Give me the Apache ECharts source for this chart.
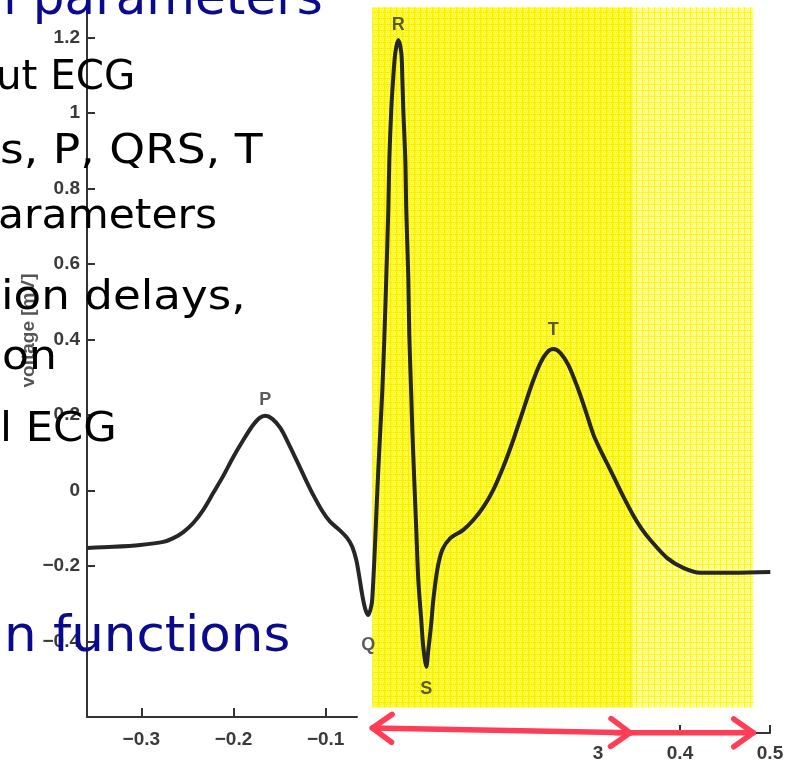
<!DOCTYPE html>
<html>
<head>
<meta charset="utf-8">
<script src="https://cdn.jsdelivr.net/npm/echarts@6/dist/echarts.min.js"></script>
<style>
  html, body { margin: 0; padding: 0; background: #ffffff; }
  #chart { width: 789px; height: 763px; }
</style>
</head>
<body>
<div id="chart"></div>
<script>
// One ECG beat: time [s] and voltage [mV]
const ecgTime = [
  -0.3587, -0.3304, -0.3011, -0.2761, -0.2652, -0.2543, -0.2435, -0.2326, -0.2217, -0.2109,
  -0.2000, -0.1891, -0.1793, -0.1717, -0.1652, -0.1576, -0.1489, -0.1402, -0.1304, -0.1217,
  -0.1130, -0.1033, -0.0946, -0.0848, -0.0761, -0.0707, -0.0663, -0.0630, -0.0598, -0.0565,
  -0.0533, -0.0500, -0.0489, -0.0467, -0.0446, -0.0424, -0.0402, -0.0380, -0.0359, -0.0337,
  -0.0315, -0.0304, -0.0283, -0.0261, -0.0239, -0.0207, -0.0174, -0.0163, -0.0152, -0.0130,
  -0.0120, -0.0098, -0.0087, -0.0065, -0.0054, -0.0033, -0.0011, 0.0011, 0.0043, 0.0065,
  0.0098, 0.0120, 0.0152, 0.0174, 0.0217, 0.0272, 0.0359, 0.0500, 0.0609, 0.0717,
  0.0826, 0.0935, 0.1043, 0.1152, 0.1250, 0.1337, 0.1413, 0.1478, 0.1554, 0.1641,
  0.1739, 0.1826, 0.1913, 0.1989, 0.2098, 0.2207, 0.2348, 0.2435, 0.2533, 0.2717,
  0.2891, 0.3076, 0.3435, 0.3837
];
const ecgVoltage = [
  -0.152, -0.149, -0.144, -0.136, -0.126, -0.110, -0.086, -0.051, -0.006, 0.039,
  0.089, 0.134, 0.171, 0.192, 0.198, 0.190, 0.166, 0.126, 0.076, 0.031,
  -0.012, -0.054, -0.083, -0.104, -0.126, -0.149, -0.184, -0.229, -0.277, -0.314,
  -0.330, -0.306, -0.285, -0.184, -0.065, 0.055, 0.161, 0.267, 0.399, 0.566,
  0.744, 0.876, 1.009, 1.096, 1.160, 1.194, 1.160, 1.096, 1.009, 0.876,
  0.744, 0.566, 0.412, 0.248, 0.161, 0.028, -0.104, -0.237, -0.343, -0.414,
  -0.467, -0.422, -0.351, -0.290, -0.210, -0.157, -0.126, -0.104, -0.078, -0.044,
  0.002, 0.063, 0.134, 0.214, 0.285, 0.338, 0.367, 0.375, 0.365, 0.333,
  0.275, 0.214, 0.149, 0.108, 0.055, 0.000, -0.066, -0.100, -0.131, -0.179,
  -0.205, -0.218, -0.218, -0.216
];

// Wave names and the sample times they mark
const waveNames = ['P', 'Q', 'R', 'S', 'T'];
const waveTimes = [-0.1652, -0.0533, -0.0207, 0.0098, 0.1478];

// Axis ticks
const voltageTicks = [-0.4, -0.2, 0, 0.2, 0.4, 0.6, 0.8, 1, 1.2];
const timeTicksLeft = [-0.3, -0.2, -0.1];
const timeTicksRight = [0.3, 0.4, 0.5];

// Highlighted time intervals [start, end] and their voltage extent [low, high]
const bandSpans = [[-0.0489, 0.2348], [0.2348, 0.3652]];
const bandVoltage = [-0.575, 1.281];

// Interval arrows below the trace: [t0, v0, t1, v1, headAtStart, headAtEnd]
const arrowSpans = [
  [-0.0489, -0.629, 0.2315, -0.642, true, true],
  [0.2150, -0.642, 0.3652, -0.642, false, true]
];

// Label placement for each wave name
const waveLabelStyle = {
  P: { position: 'top', distance: 6 },
  Q: { position: 'bottom', distance: 20 },
  R: { position: 'top', distance: 5 },
  S: { position: 'bottom', distance: 13 },
  T: { position: 'top', distance: 10 }
};

const AXIS_FONT = '"Liberation Sans", Arial, sans-serif';
const SLIDE_FONT = '"DejaVu Sans", Verdana, sans-serif';
const NAVY = '#0a0a8c';

function fmtSigned(v) {
  const r = Math.round(v * 10) / 10;
  return r < 0 ? '\u2212' + String(Math.abs(r)) : String(r);
}

// Chart-paper texture for the highlighted bands
function makePaper(base, line, dot) {
  const c = document.createElement('canvas');
  c.width = 6; c.height = 6;
  const g = c.getContext('2d');
  g.fillStyle = base; g.fillRect(0, 0, 6, 6);
  g.fillStyle = dot;
  for (let y = 1; y < 6; y += 2) {
    for (let x = (y % 4 === 1 ? 2 : 3); x < 6; x += 2) g.fillRect(x, y, 1, 1);
  }
  g.fillStyle = line;
  g.fillRect(0, 0, 6, 1);
  g.fillRect(0, 0, 1, 6);
  return c;
}
const paperStrong = makePaper('#fff91e', '#f5f000', '#ffff9a');
const paperLight = makePaper('#ffff7a', '#fff61c', '#ffffd0');

const curveData = ecgTime.map(function (t, i) { return [t, ecgVoltage[i]]; });

const waveLabelData = waveNames.map(function (name, k) {
  const ls = waveLabelStyle[name];
  return {
    value: [waveTimes[k], ecgVoltage[ecgTime.indexOf(waveTimes[k])]],
    label: {
      show: true, formatter: name, position: ls.position, distance: ls.distance,
      fontFamily: AXIS_FONT, fontSize: 18, fontWeight: 'bold', color: '#333'
    }
  };
});

const axisLineStyle = { color: '#333', width: 2 };
const tickLabel = { fontFamily: AXIS_FONT, fontSize: 19, fontWeight: 'bold', color: '#3a3a3a' };

const chart = echarts.init(document.getElementById('chart'), null, { renderer: 'canvas' });

function slideText(id, text, x, y, size, color, sx) {
  return {
    id: id, type: 'text', z: 40, x: x, y: y, scaleX: sx, silent: true,
    style: { text: text, font: size + 'px ' + SLIDE_FONT, fill: color, verticalAlign: 'middle' }
  };
}

chart.setOption({
  animation: false,
  backgroundColor: '#ffffff',
  grid: [
    { left: 87, top: 0, width: 270, height: 717 },
    { left: 590, top: 700, width: 180, height: 33 },
    { left: 87, top: 0, width: 702, height: 717 }
  ],
  xAxis: [
    {
      gridIndex: 0, type: 'value', min: -0.359, max: -0.066,
      axisLine: { onZero: false, lineStyle: axisLineStyle },
      axisTick: { inside: true, length: 9, customValues: timeTicksLeft, lineStyle: axisLineStyle },
      axisLabel: Object.assign({ customValues: timeTicksLeft, formatter: fmtSigned, margin: 13 }, tickLabel),
      splitLine: { show: false }
    },
    {
      gridIndex: 1, type: 'value', min: 0.3, max: 0.5,
      axisLine: { onZero: false, lineStyle: axisLineStyle },
      axisTick: { inside: true, length: 8, customValues: timeTicksRight, lineStyle: axisLineStyle },
      axisLabel: Object.assign({ customValues: timeTicksRight, formatter: fmtSigned, margin: 11 }, tickLabel),
      splitLine: { show: false }
    },
    { gridIndex: 2, type: 'value', min: -0.359, max: 0.404, show: false }
  ],
  yAxis: [
    {
      gridIndex: 0, type: 'value', min: -0.6, max: 1.3,
      name: 'voltage [mV]', nameLocation: 'middle', nameGap: 44,
      nameTextStyle: { fontFamily: AXIS_FONT, fontSize: 19, fontWeight: 'bold', color: '#555', padding: [0, 0, 0, 56] },
      axisLine: { onZero: false, lineStyle: axisLineStyle },
      axisTick: { inside: true, length: 8, customValues: voltageTicks, lineStyle: axisLineStyle },
      axisLabel: Object.assign({ customValues: voltageTicks, formatter: fmtSigned, margin: 7 }, tickLabel),
      splitLine: { show: false }
    },
    { gridIndex: 1, type: 'value', show: false },
    { gridIndex: 2, type: 'value', min: -0.6, max: 1.3, show: false }
  ],
  series: [
    {
      type: 'line',
      xAxisIndex: 2, yAxisIndex: 2,
      data: curveData,
      smooth: 0.3,
      symbol: 'none',
      z: 3,
      lineStyle: { color: '#262626', width: 4 },
      markArea: {
        silent: true,
        z: 1,
        data: [
          [
            { coord: [bandSpans[0][0], bandVoltage[1]], itemStyle: { color: { image: paperStrong, repeat: 'repeat' } } },
            { coord: [bandSpans[0][1], bandVoltage[0]] }
          ],
          [
            { coord: [bandSpans[1][0], bandVoltage[1]], itemStyle: { color: { image: paperLight, repeat: 'repeat' } } },
            { coord: [bandSpans[1][1], bandVoltage[0]] }
          ]
        ]
      }
    },
    {
      type: 'scatter',
      xAxisIndex: 2, yAxisIndex: 2,
      data: waveLabelData,
      symbolSize: 1,
      z: 4,
      silent: true,
      itemStyle: { color: 'rgba(0,0,0,0)' }
    }
  ],
  graphic: {
    elements: [
      {
        id: 'mask', type: 'rect', z: 5, silent: true,
        shape: { x: 555, y: 719, width: 38, height: 44 },
        style: { fill: '#ffffff' }
      },
      slideText('t0', 'l parameters', 3, 1, 50, NAVY, 1),
      slideText('t1', 'ut ECG', -4, 79, 40, '#000', 1.01),
      slideText('t2', 's, P, QRS, T', 0, 153, 40, '#000', 1.14),
      slideText('t3', 'arameters', -2, 218, 40, '#000', 1.06),
      slideText('t4', 'ion delays,', 1, 299, 40, '#000', 1.13),
      slideText('t5', 'on', 2, 359, 40, '#000', 1.1),
      slideText('t6', 'l ECG', 0, 431, 40, '#000', 1.08),
      slideText('t7', 'n functions', 4, 638, 50, NAVY, 1.03)
    ]
  }
});

// Interval arrows placed through the trace's own axes
function arrowElements() {
  const out = [];
  const HEAD = 24, ANG = 0.62;
  arrowSpans.forEach(function (a, i) {
    const p0 = chart.convertToPixel({ gridIndex: 2 }, [a[0], a[1]]);
    const p1 = chart.convertToPixel({ gridIndex: 2 }, [a[2], a[3]]);
    const base = { z: 60, silent: true, style: { stroke: '#ff3d57', lineWidth: 5.5, lineCap: 'round', lineJoin: 'round', fill: null } };
    out.push(Object.assign({ id: 'arrow' + i, type: 'polyline', shape: { points: [p0, p1] } }, base));
    const dir = Math.atan2(p1[1] - p0[1], p1[0] - p0[0]);
    function head(tip, d, key) {
      const back = d + Math.PI;
      const pa = [tip[0] + HEAD * Math.cos(back - ANG), tip[1] + HEAD * Math.sin(back - ANG)];
      const pb = [tip[0] + HEAD * Math.cos(back + ANG), tip[1] + HEAD * Math.sin(back + ANG)];
      out.push(Object.assign({ id: 'arrow' + i + key, type: 'polyline', shape: { points: [pa, tip, pb] } }, base));
    }
    if (a[4]) head(p0, dir + Math.PI, 's');
    if (a[5]) head(p1, dir, 'e');
  });
  return out;
}
chart.setOption({ graphic: { elements: arrowElements() } });
</script>
</body>
</html>
